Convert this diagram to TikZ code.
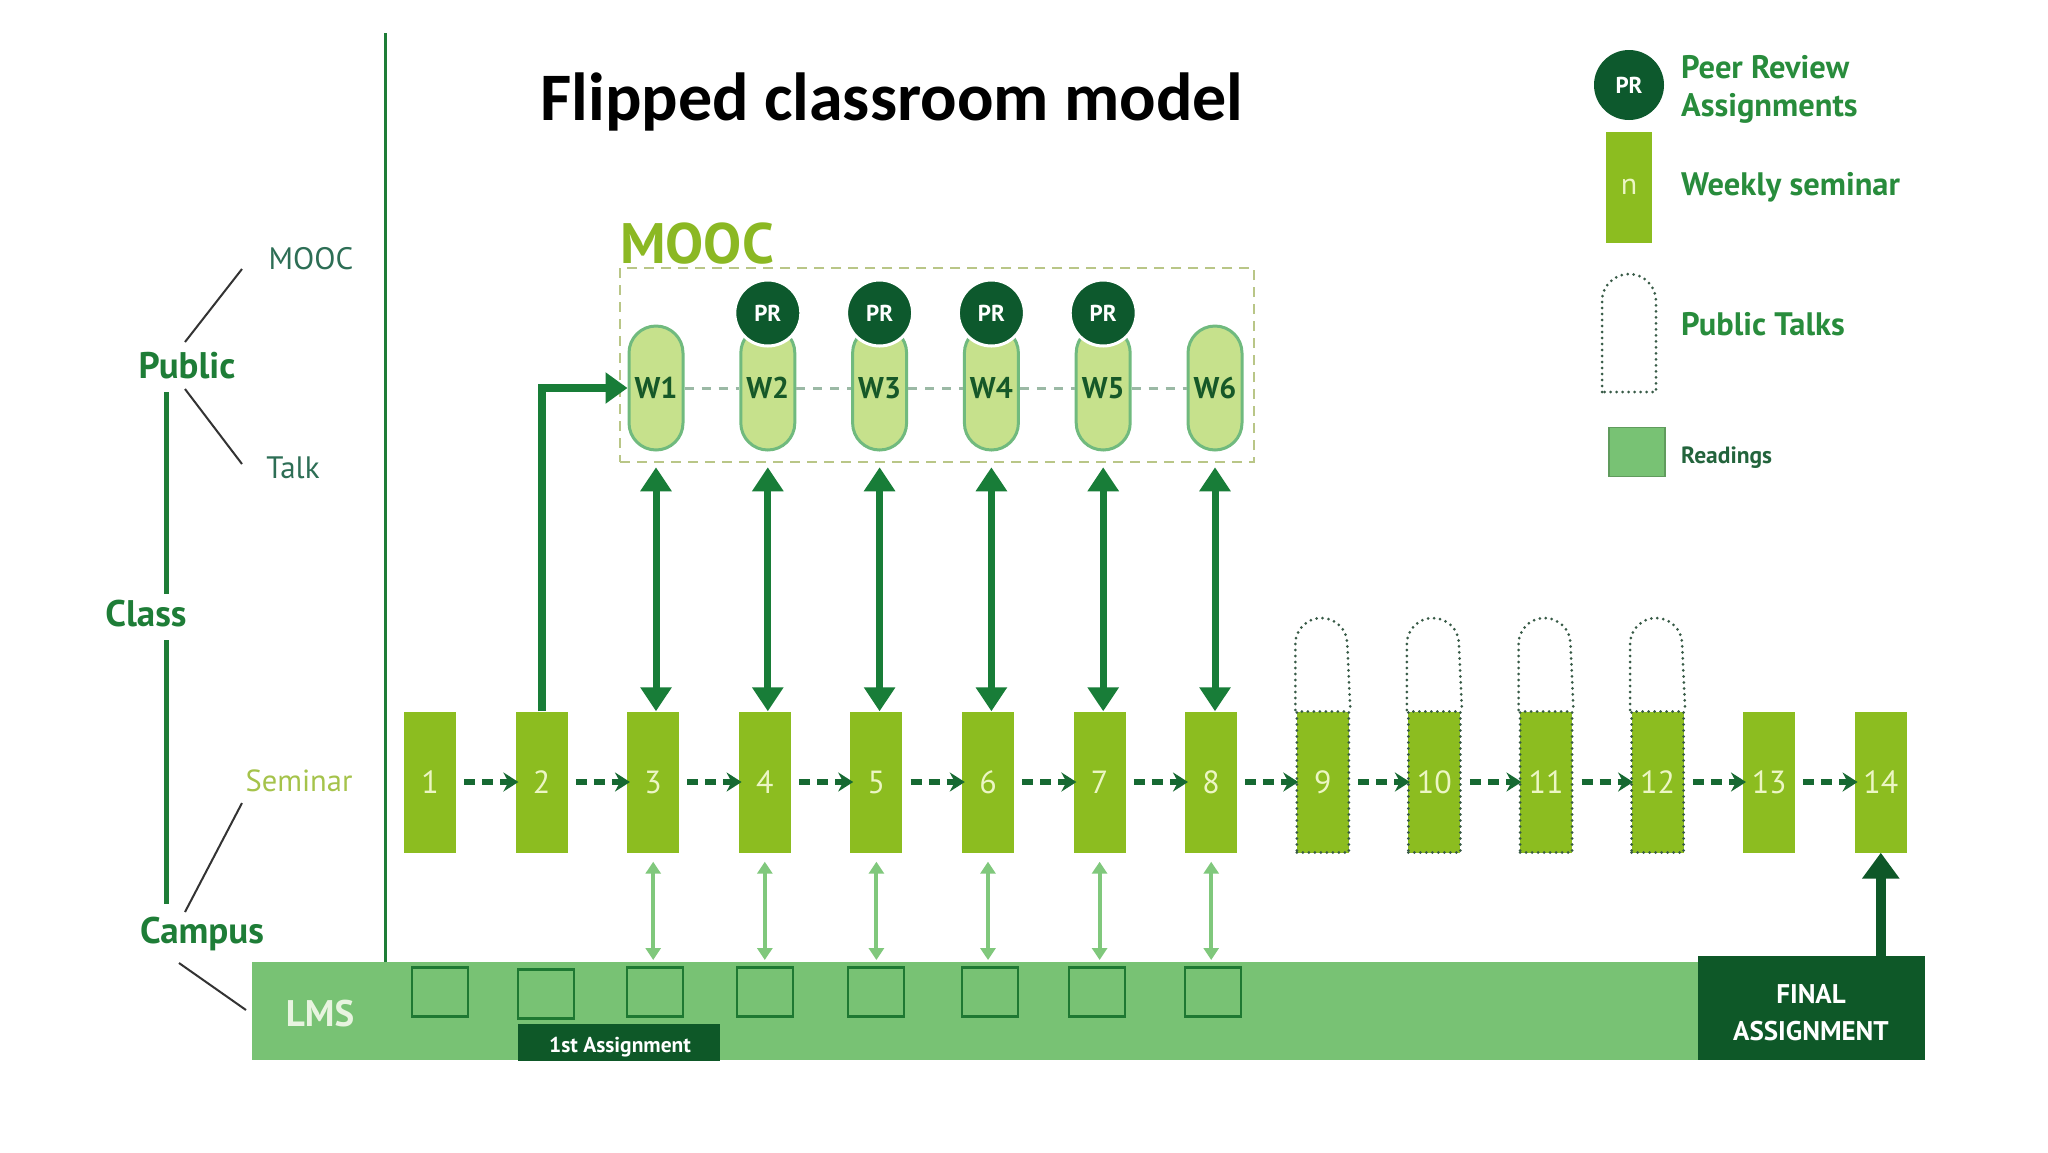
\documentclass[tikz,border=0pt]{standalone}
\usepackage{fontspec}
\setmainfont{PT Sans}
\newfontfamily\titlefont{Carlito}
\usetikzlibrary{arrows.meta}
\definecolor{semgreen}{RGB}{140,189,32}
\definecolor{numtext}{RGB}{236,246,196}
\definecolor{pillfill}{RGB}{198,225,140}
\definecolor{pillline}{RGB}{112,186,126}
\definecolor{wtext}{RGB}{22,88,40}
\definecolor{prgreen}{RGB}{13,89,45}
\definecolor{arrowgreen}{RGB}{24,125,56}
\definecolor{flowc}{RGB}{22,105,50}
\definecolor{lmsgreen}{RGB}{120,194,116}
\definecolor{lightarrow}{RGB}{128,200,124}
\definecolor{darkbox}{RGB}{14,88,40}
\definecolor{labelgreen}{RGB}{30,125,55}
\definecolor{leftreg}{RGB}{45,110,85}
\definecolor{semlabel}{RGB}{165,195,75}
\definecolor{mooctitle}{RGB}{139,184,35}
\definecolor{moocbox}{RGB}{185,198,135}
\definecolor{legendtext}{RGB}{40,140,60}
\definecolor{readtext}{RGB}{35,100,60}
\definecolor{dotc}{RGB}{55,90,70}
\definecolor{sqline}{RGB}{30,120,50}
\definecolor{pilldashc}{RGB}{155,185,165}
\definecolor{lmstext}{RGB}{232,244,224}
\begin{document}
\begin{tikzpicture}[x=1pt,y=-1pt,
  sembox/.style={rectangle, fill=semgreen, minimum width=52pt, minimum height=141pt, inner sep=0pt, text=numtext, font=\fontsize{32}{34}\selectfont},
  talkbox/.style={sembox, draw=dotc, line width=3pt, dash pattern=on 0pt off 6pt, line cap=round},
  dotline/.style={draw=dotc, line width=3pt, dash pattern=on 0pt off 6pt, line cap=round},
  pill/.style={rectangle, rounded corners=27pt, minimum width=54pt, minimum height=124pt, fill=pillfill, draw=pillline, line width=3pt, inner sep=0pt, text=wtext, font=\bfseries\fontsize{30}{32}\selectfont},
  prc/.style={circle, minimum size=66pt, inner sep=0pt, fill=prgreen, draw=white, line width=3pt, text=white, font=\bfseries\fontsize{23}{25}\selectfont},
  flow/.style={draw=flowc, line width=6pt, dash pattern=on 11pt off 7pt, -{Stealth[length=15pt,width=19pt,inset=5pt]}, shorten <=8pt, shorten >=-3pt},
  pilldash/.style={draw=pilldashc, line width=3pt, dash pattern=on 9pt off 8pt},
  moocarrow/.style={draw=arrowgreen, line width=7pt, {Triangle[length=24pt,width=30pt]}-{Triangle[length=24pt,width=30pt]}},
  lmsarrow/.style={draw=lightarrow, line width=4pt, {Triangle[length=12pt,width=15pt]}-{Triangle[length=12pt,width=15pt]}},
  reading/.style={rectangle, draw=sqline, line width=2.5pt, minimum width=56pt, minimum height=49pt, inner sep=0pt},
  darklabel/.style={fill=darkbox, text=white, inner sep=0pt, font=\bfseries},
  biglabel/.style={text=labelgreen, font=\bfseries\fontsize{37}{39}\selectfont, inner sep=0pt},
  smalllabel/.style={text=leftreg, font=\fontsize{31}{33}\selectfont, inner sep=0pt},
  thin/.style={draw=black!80, line width=2pt},
  legtext/.style={text=legendtext, font=\bfseries\fontsize{32.5}{38}\selectfont, inner sep=0pt, anchor=west, align=left}
]
\fill[white] (0,0) rectangle (2048,1152);
\useasboundingbox (0,0) rectangle (2048,1152);

% title
\node[font=\titlefont\bfseries\fontsize{68}{70}\selectfont, anchor=base, inner sep=0pt] (title) at (892,120) {Flipped classroom model};

% divider
\draw[line width=3pt, labelgreen] (385,33) -- (385,1060);

% LMS band
\node[rectangle, fill=lmsgreen, minimum width=1672pt, minimum height=98pt, inner sep=0pt, anchor=north west] (lms) at (252,962) {};
\node[text=lmstext, font=\bfseries\fontsize{37}{39}\selectfont, inner sep=0pt] (lmst) at (320,1014) {LMS};

% readings
\node[reading] (r1) at (440,992) {};
\node[reading] (r2) at (546,994) {};
\node[reading] (r3) at (655,992) {};
\node[reading] (r4) at (765,992) {};
\node[reading] (r5) at (876,992) {};
\node[reading] (r6) at (990,992) {};
\node[reading] (r7) at (1097,992) {};
\node[reading] (r8) at (1213,992) {};

\node[darklabel, minimum width=202pt, minimum height=37pt] (first) at (619,1042) {};
\node[text=white, inner sep=0pt, font=\bfseries\fontsize{21.5}{23}\selectfont] (firstt) at (620,1047) {1st Assignment};
\node[darklabel, minimum width=227pt, minimum height=104pt] (fin) at (1811,1008) {};
\node[text=white, inner sep=0pt, align=center, font=\bfseries\fontsize{27}{37}\selectfont] (fint) at (1811,1013) {FINAL\\ASSIGNMENT};

% seminar boxes
\foreach \i in {1,...,8,13,14} {
  \pgfmathsetmacro\xx{430+(\i-1)*111.6}
  \node[sembox] (b\i) at (\xx,782) {\i};
}
\foreach \i in {9,...,12} {
  \pgfmathsetmacro\xx{430+(\i-1)*111.6}
  \node[talkbox] (b\i) at (\xx,782) {\i};
  \draw[dotline] (b\i.north west) -- ++(0,-66) arc[start angle=180, end angle=360, radius=26] -- (b\i.north east);
}
\foreach \i/\j in {1/2,2/3,3/4,4/5,5/6,6/7,7/8,8/9,9/10,10/11,11/12,12/13,13/14}
  \draw[flow] (b\i.east) -- (b\j.west);

% MOOC
\node[draw=moocbox, line width=2.5pt, dash pattern=on 10pt off 7pt, minimum width=634pt, minimum height=194pt, inner sep=0pt] (mooc) at (937,365) {};
\node[text=mooctitle, font=\bfseries\fontsize{57}{59}\selectfont, anchor=base west, inner sep=0pt] (mooct) at (620,263) {MOOC};

\foreach \k in {1,...,6} {
  \pgfmathsetmacro\xx{656+(\k-1)*111.8}
  \node[pill] (W\k) at (\xx,388) {W\k};
}
\foreach \k/\m in {1/2,2/3,3/4,4/5,5/6}
  \draw[pilldash] (W\k.east) -- (W\m.west);
\foreach \k in {2,...,5}
  \node[prc] (P\k) at ([yshift=75pt]W\k.center) {PR};

\foreach \k/\j in {1/3,2/4,3/5,4/6,5/7,6/8}
  \draw[moocarrow] ([yshift=-4pt]W\k.south |- mooc.south) -- (W\k.south |- b\j.north);

\draw[draw=arrowgreen, line width=8pt, -{Triangle[length=22pt,width=30pt]}] (b2.north) |- (W1.west);

\foreach \j in {3,...,8}
  \draw[lmsarrow] ([yshift=-9pt]b\j.south) -- ([yshift=2pt]b\j.south |- lms.north);

\draw[draw=darkbox, line width=10pt, -{Triangle[length=26pt,width=36pt]}] (fin.north -| b14.south) -- (b14.south);

% left labels
\node[smalllabel] (lmooc) at (311,259) {MOOC};
\node[smalllabel] (ltalk) at (293,468) {Talk};
\node[biglabel] (lpub) at (187,366) {Public};
\node[biglabel] (lclass) at (146,614) {Class};
\node[biglabel] (lcamp) at (202,934) {Campus};
\node[smalllabel, text=semlabel, font=\fontsize{30.5}{32}\selectfont] (lsem) at (299,781) {Seminar};
\coordinate (c1) at (166,392);
\coordinate (c2) at (166,594);
\coordinate (c3) at (166,640);
\coordinate (c4) at (166,904);
\draw[line width=5pt, labelgreen] (c1) -- (c2);
\draw[line width=5pt, labelgreen] (c3) -- (c4);
\coordinate (t1a) at (242,269); \coordinate (t1b) at (185,342);
\coordinate (t2a) at (185,389); \coordinate (t2b) at (242,464);
\coordinate (t3a) at (242,803); \coordinate (t3b) at (185,912);
\coordinate (t4a) at (179,963); \coordinate (t4b) at (246,1010);
\draw[thin] (t1a) -- (t1b);
\draw[thin] (t2a) -- (t2b);
\draw[thin] (t3a) -- (t3b);
\draw[thin] (t4a) -- (t4b);

% legend
\node[circle, minimum size=70pt, inner sep=0pt, fill=prgreen, text=white, font=\bfseries\fontsize{23}{25}\selectfont] (legpr) at (1629,85) {PR};
\node[legtext] (legprt) at (1681,89) {Peer Review\\Assignments};
\node[rectangle, fill=semgreen, minimum width=46pt, minimum height=111pt, inner sep=0pt, text=numtext, font=\fontsize{30}{32}\selectfont] (legsem) at (1629,187) {n};
\node[legtext] (legsemt) at (1681,187) {Weekly seminar};
\coordinate (ptb) at (1602,392);
\draw[dotline] (ptb) -- ++(0,-91) arc[start angle=180, end angle=360, radius=27] -- ++(0,91) -- cycle;
\node[legtext] (legptt) at (1681,324) {Public Talks};
\node[rectangle, fill=lmsgreen, draw=lmsgreen!80!black, line width=1.5pt, minimum width=56pt, minimum height=49pt, inner sep=0pt] (legrd) at (1637,452) {};
\node[legtext, text=readtext, font=\bfseries\fontsize{23.5}{25}\selectfont] (legrdt) at (1681,458) {Readings};
\end{tikzpicture}
\end{document}
